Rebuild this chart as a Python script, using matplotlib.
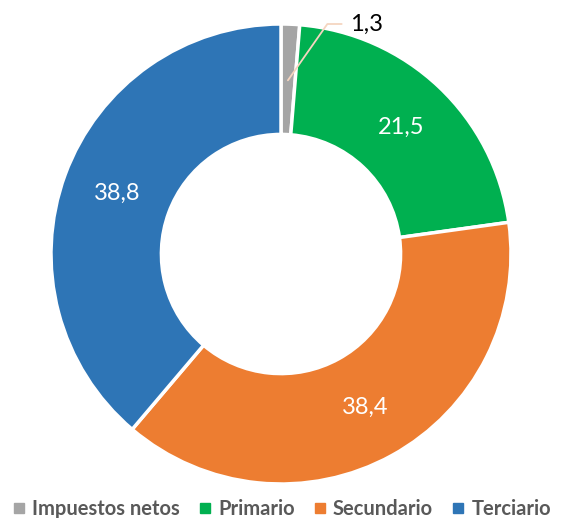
import matplotlib.pyplot as plt
import numpy as np

# data
categories = ['Impuestos netos', 'Primario', 'Secundario', 'Terciario']
values = [1.3, 21.5, 38.4, 38.8]
labels = ['1,3', '21,5', '38,4', '38,8']
colors = ['#A5A5A5', '#00B050', '#ED7D31', '#2E75B6']

plt.rcParams['font.family'] = ['Lato', 'DejaVu Sans']

fig = plt.figure(figsize=(5.63, 5.18), dpi=100)
# centre ~ (281, 254) px, radius ~230 px
W, H = 563, 518
cx, cy, r = 281, H - 254, 230
ax = fig.add_axes([(cx - r) / W, (cy - r) / H, 2 * r / W, 2 * r / H])

wedges, _ = ax.pie(values, colors=colors, startangle=90, counterclock=False,
                   radius=1, wedgeprops=dict(width=0.48, edgecolor='white', linewidth=2.5))
ax.set_xlim(-1, 1)
ax.set_ylim(-1, 1)
ax.set_aspect('equal')

for i, w in enumerate(wedges):
    mid = np.deg2rad((w.theta1 + w.theta2) / 2)
    if i == 0:
        # small slice: label outside with leader line
        ax.annotate(labels[i], xy=(0.03, 0.755), xytext=(0.3, 1.0),
                    fontsize=17, color='black', va='center', ha='left',
                    annotation_clip=False,
                    arrowprops=dict(arrowstyle='-', color='#F5D5C0', lw=1.3,
                                    connectionstyle='angle,angleA=0,angleB=55,rad=0',
                                    shrinkA=4, shrinkB=0))
        continue
    rr = 0.76
    ax.text(rr * np.cos(mid), rr * np.sin(mid), labels[i], fontsize=17,
            color='white', ha='center', va='center')

handles = [plt.Line2D([], [], marker='s', linestyle='', color=c, markersize=7) for c in colors]
fig.legend(handles, categories, loc='lower center', ncol=4, frameon=False,
           bbox_to_anchor=(0.5, -0.037), handlelength=0.7, handletextpad=0.3,
           columnspacing=0.9, prop=dict(size=14.5, weight='bold'), labelcolor='#595959')

fig.savefig('out.png', dpi=100)
